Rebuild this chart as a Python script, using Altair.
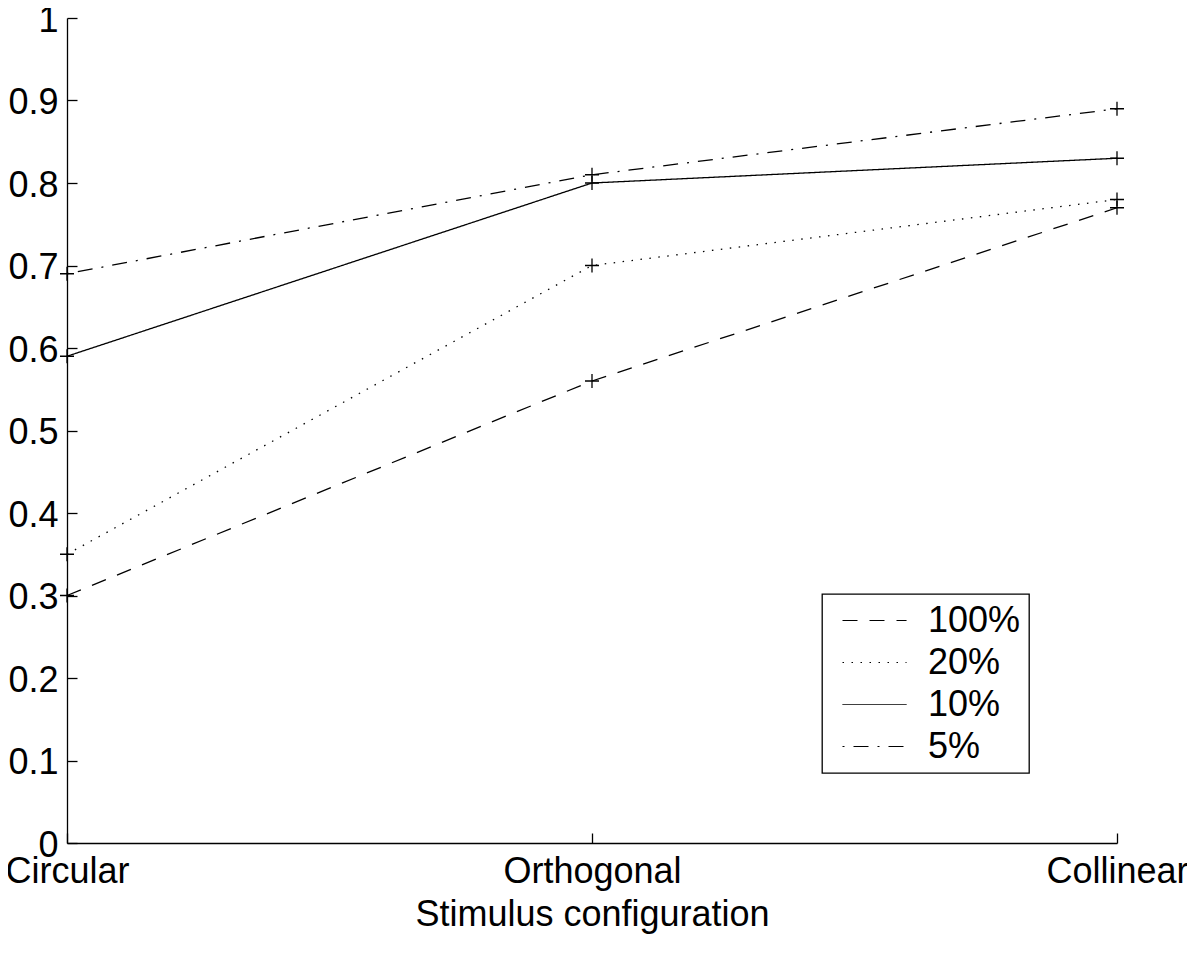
import altair as alt
import pandas as pd

configs = ["Circular", "Orthogonal", "Collinear"]
series = ["100%", "20%", "10%", "5%"]
v100 = [0.30, 0.56, 0.77]
v20 = [0.35, 0.70, 0.78]
v10 = [0.59, 0.80, 0.83]
v5 = [0.69, 0.81, 0.89]
y_ticks = [0, 0.1, 0.2, 0.3, 0.4, 0.5, 0.6, 0.7, 0.8, 0.9, 1.0]

rows = []
for s, vals in zip(series, [v100, v20, v10, v5]):
    for c, v in zip(configs, vals):
        rows.append({"config": c, "series": s, "value": v})
df = pd.DataFrame(rows)

dashes = [[15, 12], [1.5, 7.5], [1, 0], [2, 9, 15, 9]]
FONT = "Liberation Sans"

x = alt.X(
    "config:N",
    sort=configs,
    scale=alt.Scale(type="point", padding=0),
    axis=alt.Axis(
        title="Stimulus configuration",
        labelAngle=0,
        tickSize=alt.ExprRef("-10"),
        labelPadding=21,
        titlePadding=8,
    ),
)
y = alt.Y(
    "value:Q",
    scale=alt.Scale(domain=[0, 1], nice=False, zero=True),
    axis=alt.Axis(
        title=None,
        values=y_ticks,
        format=".1~f",
        tickSize=alt.ExprRef("-10"),
        labelPadding=19,
        labelOffset=2,
    ),
)

line = alt.Chart(df).mark_line(color="black", strokeWidth=1.3).encode(
    x=x,
    y=y,
    strokeDash=alt.StrokeDash(
        "series:N",
        sort=series,
        scale=alt.Scale(domain=series, range=dashes),
        legend=alt.Legend(
            title=None,
            orient="none",
            legendX=755,
            legendY=576,
            direction="vertical",
            fillColor="white",
            strokeColor="black",
            padding=8.5,
            rowPadding=6,
            symbolOffset=11.5,
            symbolType="M-1,0H2.66",
            symbolSize=1225,
            symbolStrokeWidth=1,
            symbolStrokeColor="black",
            symbolFillColor="transparent",
            labelFontSize=36,
            labelFont=FONT,
            labelColor="black",
            labelOffset=50,
            labelExpr="datum.label + '\u00a0'",
        ),
    ),
)

points = alt.Chart(df).mark_point(
    shape="M-1,0H1M0,-1V1", size=196, color="black", strokeWidth=1.3, filled=False, opacity=1
).encode(x=x, y=y, detail="series:N")

chart = (
    alt.layer(line, points)
    .properties(
        width=1050,
        height=825,
        autosize=alt.AutoSizeParams(type="none"),
        padding={"left": 59, "top": 10, "right": 70, "bottom": 100},
    )
    .configure_view(stroke=None)
    .configure_axis(
        grid=False,
        domainColor="black",
        domainWidth=1.3,
        tickColor="black",
        tickWidth=1.3,
        labelFont=FONT,
        labelFontSize=36,
        labelColor="black",
        titleFont=FONT,
        titleFontSize=36,
        titleFontWeight="normal",
        titleColor="black",
    )
    .configure_legend(strokeWidth=1.3)
)

chart.save("out.html", embed_options={"renderer": "svg", "actions": False})
